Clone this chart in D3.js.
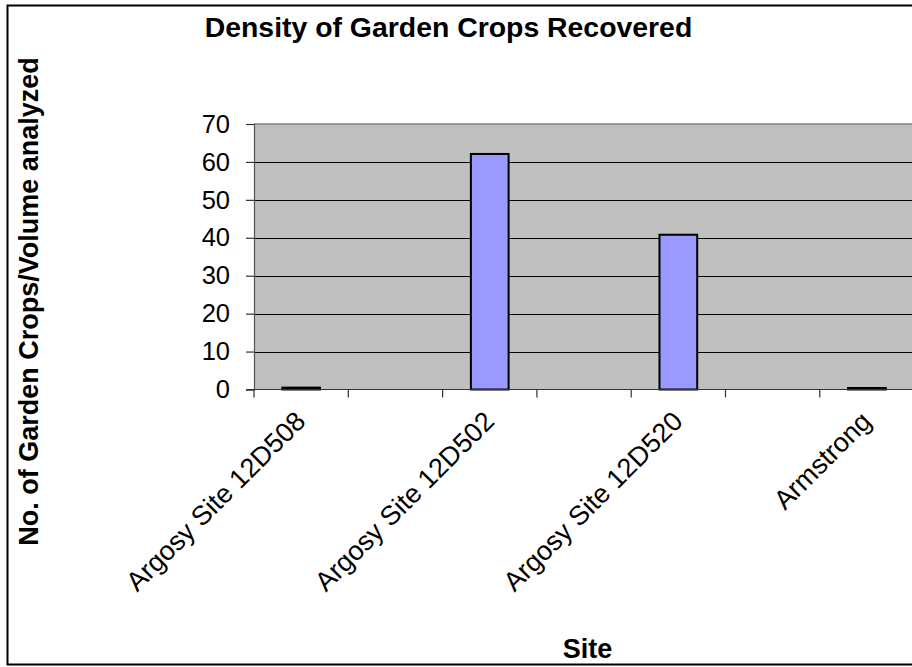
<!DOCTYPE html>
<html>
<head>
<meta charset="utf-8">
<script src="https://cdn.jsdelivr.net/npm/d3@7"></script>
<style>
  html, body { margin: 0; padding: 0; background: #fff; }
  svg { display: block; font-family: "Liberation Sans", Arial, sans-serif; }
</style>
</head>
<body>
<svg id="chart" width="912" height="667"></svg>
<script>
// ---- data ----
// 8 category slots; only every other slot carries a visible label in the original chart
const categories = ["Argosy Site 12D508", "", "Argosy Site 12D502", "", "Argosy Site 12D520", "", "Armstrong", ""];
const values = [0.5, null, 62.1, null, 40.8, null, 0.4, null];
const yTicks = [0, 10, 20, 30, 40, 50, 60, 70];
const title = "Density of Garden Crops Recovered";
const xTitle = "Site";
const yTitle = "No. of Garden Crops/Volume analyzed";

// ---- layout ----
const svg = d3.select("#chart");
const plot = { left: 254, top: 124, bottom: 389.5, bandW: 94.3 };

const x = d3.scaleBand()
  .domain(d3.range(categories.length))
  .range([plot.left, plot.left + plot.bandW * categories.length])
  .paddingInner(0).paddingOuter(0);
const y = d3.scaleLinear().domain([0, 70]).range([plot.bottom, plot.top]);

// outer chart border
svg.append("rect")
  .attr("x", 7.5).attr("y", 5.5)
  .attr("width", 1000).attr("height", 659)
  .attr("fill", "#fff").attr("stroke", "#000").attr("stroke-width", 2);

// plot background
svg.append("rect")
  .attr("x", plot.left).attr("y", plot.top)
  .attr("width", x.range()[1] - plot.left).attr("height", plot.bottom - plot.top)
  .attr("fill", "#C0C0C0");

// gridlines
svg.append("g").selectAll("line")
  .data(yTicks.filter(d => d > 0 && d < 70))
  .join("line")
  .attr("x1", plot.left).attr("x2", x.range()[1])
  .attr("y1", d => Math.round(y(d)) + 0.5).attr("y2", d => Math.round(y(d)) + 0.5)
  .attr("stroke", "#000").attr("stroke-width", 1);

// plot top border
svg.append("line")
  .attr("x1", plot.left).attr("x2", x.range()[1])
  .attr("y1", y(70)).attr("y2", y(70))
  .attr("stroke", "#808080").attr("stroke-width", 1.5);

// bars
const barW = x.bandwidth() / 2.5;
svg.append("g").selectAll("rect")
  .data(values.map((v, i) => ({ i, v })).filter(d => d.v != null))
  .join("rect")
  .attr("x", d => x(d.i) + (x.bandwidth() - barW) / 2)
  .attr("width", barW)
  .attr("y", d => y(d.v))
  .attr("height", d => y(0) - y(d.v))
  .attr("fill", "#9999FF")
  .attr("stroke", "#000")
  .attr("stroke-width", 2);

// y axis
const yAxis = d3.axisLeft(y).tickValues(yTicks).tickSize(8).tickPadding(16);
const gy = svg.append("g").attr("transform", `translate(${plot.left},0)`).call(yAxis);
gy.select(".domain").attr("stroke", "#555").attr("stroke-width", 1.2);
gy.selectAll(".tick line").attr("stroke", "#333").attr("stroke-width", 1.2);
gy.selectAll(".tick text")
  .attr("font-size", 25.5).attr("fill", "#000")
  .attr("font-family", "Liberation Sans, Arial, sans-serif");

// x axis line + tick marks at category boundaries
const boundaries = d3.range(categories.length + 1).map(i => plot.left + i * x.step());
svg.append("line")
  .attr("x1", plot.left - 8).attr("x2", x.range()[1])
  .attr("y1", plot.bottom).attr("y2", plot.bottom)
  .attr("stroke", "#333").attr("stroke-width", 1.2);
svg.append("g").selectAll("line")
  .data(boundaries)
  .join("line")
  .attr("x1", d => d).attr("x2", d => d)
  .attr("y1", plot.bottom).attr("y2", plot.bottom + 8)
  .attr("stroke", "#333").attr("stroke-width", 1.2);

// x category labels (rotated -45)
svg.append("g").selectAll("text")
  .data(categories.map((c, i) => ({ c, i })).filter(d => d.c))
  .join("text")
  .attr("transform", d => `translate(${x(d.i) + x.bandwidth() / 2 + 6},423) rotate(-45)`)
  .attr("text-anchor", "end")
  .attr("font-size", 27)
  .attr("fill", "#000")
  .text(d => d.c);

// titles
svg.append("text")
  .attr("x", 448.5).attr("y", 37)
  .attr("text-anchor", "middle")
  .attr("font-size", 28.4).attr("font-weight", "bold")
  .text(title);

svg.append("text")
  .attr("x", 587.5).attr("y", 658)
  .attr("text-anchor", "middle")
  .attr("font-size", 27).attr("font-weight", "bold")
  .text(xTitle);

svg.append("text")
  .attr("transform", "translate(37.5,301.5) rotate(-90)")
  .attr("text-anchor", "middle")
  .attr("font-size", 27).attr("font-weight", "bold")
  .text(yTitle);
</script>
</body>
</html>
